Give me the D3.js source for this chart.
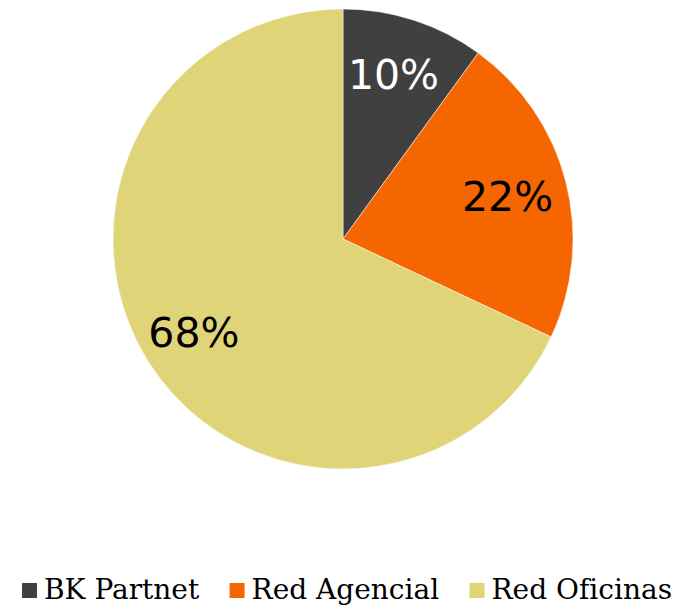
<!DOCTYPE html>
<html lang="es">
<head>
	<meta charset="UTF-8">
	<title></title>
	<style>
		* {padding:0; margin:0;}
		body {background:#fff;}
		.pctLabel {font-family:"DejaVu Sans", sans-serif; font-size:41px; text-anchor:middle;}
		.legendText {font-family:"DejaVu Serif", serif; font-size:28px; fill:#000;}
	</style>
</head>
<body>
	<script src="https://d3js.org/d3.v7.min.js"></script>

	<svg id="myGraph" width="684" height="607"></svg>

<script>
var categories = ["BK Partnet", "Red Agencial", "Red Oficinas"];
var values = [10, 22, 68];
var colors = ["#404040", "#f56600", "#dfd478"];
var labelColors = ["#ffffff", "#000000", "#000000"];

var svg = d3.select("#myGraph");
var cx = 343, cy = 239, radius = 230;

var pie = d3.pie().sort(null).value(function(d){ return d; });
var arcs = pie(values);
var arc = d3.arc().innerRadius(0).outerRadius(radius);
var labelArc = d3.arc().innerRadius(173).outerRadius(173);

var g = svg.append("g").attr("transform", "translate(" + cx + "," + cy + ")");

g.selectAll("path")
  .data(arcs)
  .enter()
  .append("path")
  .attr("d", arc)
  .attr("fill", function(d, i){ return colors[i]; })
  .attr("stroke", "#fff")
  .attr("stroke-width", 0.5);

g.selectAll("text")
  .data(arcs)
  .enter()
  .append("text")
  .attr("class", "pctLabel")
  .attr("transform", function(d){
		var c = labelArc.centroid(d);
		return "translate(" + (c[0] - 3) + "," + (c[1] + 15) + ")";
  })
  .attr("fill", function(d, i){ return labelColors[i]; })
  .text(function(d){ return d.data + "%"; });

// legend
var legend = svg.append("g");
var items = legend.selectAll("g")
  .data(categories)
  .enter()
  .append("g");
items.append("rect")
  .attr("width", 15)
  .attr("height", 15)
  .attr("y", 583)
  .attr("fill", function(d, i){ return colors[i]; });
items.append("text")
  .attr("class", "legendText")
  .attr("x", 22)
  .attr("y", 599)
  .text(function(d){ return d; });

var x = 22, widths = [];
items.each(function(){
	widths.push(d3.select(this).select("text").node().getComputedTextLength() + 22);
});
var gap = (650 - d3.sum(widths)) / (widths.length - 1);
items.attr("transform", function(d, i){
	var t = "translate(" + x + ",0)";
	x += widths[i] + gap;
	return t;
});
</script>
</body>
</html>
